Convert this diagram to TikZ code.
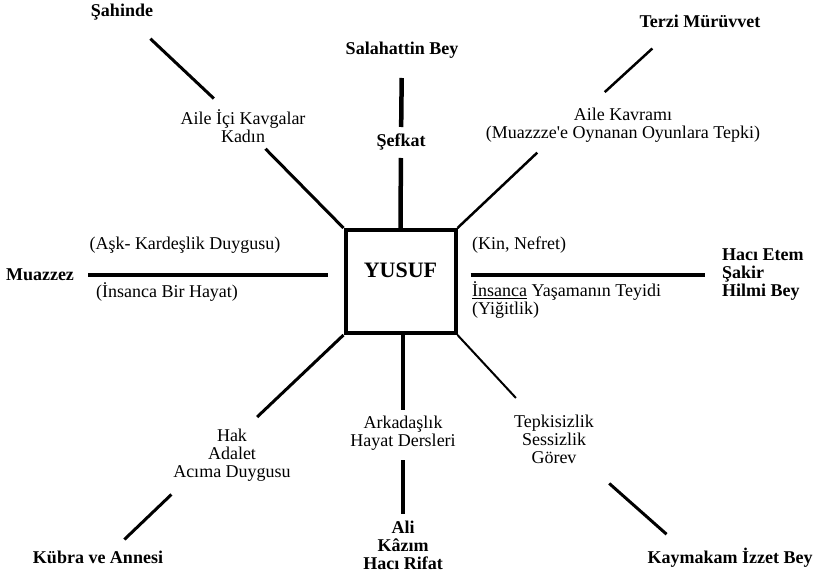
\documentclass[tikz,border=0pt]{standalone}
\usepackage{fontspec}
\setmainfont{Liberation Serif}

\begin{document}
\begin{tikzpicture}[x=1pt, y=-1pt,
    every node/.style={font=\fontsize{18}{18}\selectfont, align=center, inner sep=2pt},
    person/.style={font=\fontsize{18}{18}\selectfont\bfseries},
    hub/.style={draw, line width=4pt, minimum width=110pt, minimum height=103pt,
      text depth=22pt, font=\fontsize{22}{22}\selectfont\bfseries},
    spoke/.style={line width=3pt},
    bar/.style={line width=4.5pt}]
        \useasboundingbox (0,0) rectangle (813,577);

        \node[hub]    (yusuf)       at (400.5,281.5) {YUSUF};

        \node[person] (sahinde)     at (122,12)  {Şahinde};
        \node         (aileici)     at (243,126) {Aile İçi Kavgalar\\Kadın};
        \node[person] (salahattin)  at (402,50)  {Salahattin Bey};
        \node[person] (sefkat)      at (401,142) {Şefkat};
        \node[person] (terzi)       at (700,21)  {Terzi Mürüvvet};
        \node         (ailekavrami) at (623,125) {Aile Kavramı\\(Muazzze\textquotesingle e Oynanan Oyunlara Tepki)};

        \node[person] (muazzez)     at (40,275)  {Muazzez};
        \node         (ask)         at (185,245) {(Aşk- Kardeşlik Duygusu)};
        \node         (insancabir)  at (167,292) {(İnsanca Bir Hayat)};
        \node[anchor=west] (kin)    at (470,245) {(Kin, Nefret)};
        \node[anchor=west, align=left] (teyit) at (470,300) {\underline{İnsanca} Yaşamanın Teyidi\\(Yiğitlik)};
        \node[person, anchor=west, align=left] (haci) at (720,275) {Hacı Etem\\Şakir\\Hilmi Bey};

        \node         (hak)         at (232,455) {Hak\\Adalet\\Acıma Duygusu};
        \node[person] (kubra)       at (98,557)  {Kübra ve Annesi};
        \node         (arkadas)     at (403,433) {Arkadaşlık\\Hayat Dersleri};
        \node[person] (ali)         at (403,545) {Ali\\Kâzım\\Hacı Rifat};
        \node         (tepki)       at (554,439) {Tepkisizlik\\Sessizlik\\Görev};
        \node[person] (kaymakam)    at (730,558) {Kaymakam İzzet Bey};

        \path[spoke]
          (sahinde.center) edge [shorten <=39pt, shorten >=40pt] (aileici.center)
          (aileici.center) edge [shorten <=32pt]                 (yusuf.north west)

          (salahattin.center) edge [bar, shorten <=28pt, shorten >=15pt] (sefkat.center)
          (sefkat.center)     edge [bar, shorten <=16pt]                 (yusuf.north)

          ([xshift=-27pt]terzi.south) edge [line width=2.5pt, shorten <=28pt, shorten >=20pt] ([xshift=-33pt]ailekavrami.north)
          (yusuf.north east) edge [line width=2.5pt, shorten >=12pt] ([xshift=-77pt]ailekavrami.south)

          (muazzez.east) edge [bar, shorten <=12pt, shorten >=16pt] (muazzez.east -| yusuf.west)
          (haci.west -| yusuf.east) edge [bar, shorten <=13pt, shorten >=15pt] (haci.west)

          (yusuf.south west) edge [shorten >=14pt] ([xshift=15pt]hak.north)
          ([xshift=-49pt]hak.south) edge [shorten <=16pt, shorten >=13pt] ([xshift=17pt]kubra.north)

          (arkadas.north |- yusuf.south) edge [bar, shorten >=4pt] (arkadas.north)
          (arkadas.south) edge [bar, shorten <=8pt, shorten >=4pt] (ali.north)

          (yusuf.south east) edge [line width=2pt, shorten >=56pt] (tepki.center)
          ([xshift=35pt]tepki.south) edge [shorten <=27pt, shorten >=18pt] ([xshift=-50pt]kaymakam.north);
      \end{tikzpicture}
\end{document}
